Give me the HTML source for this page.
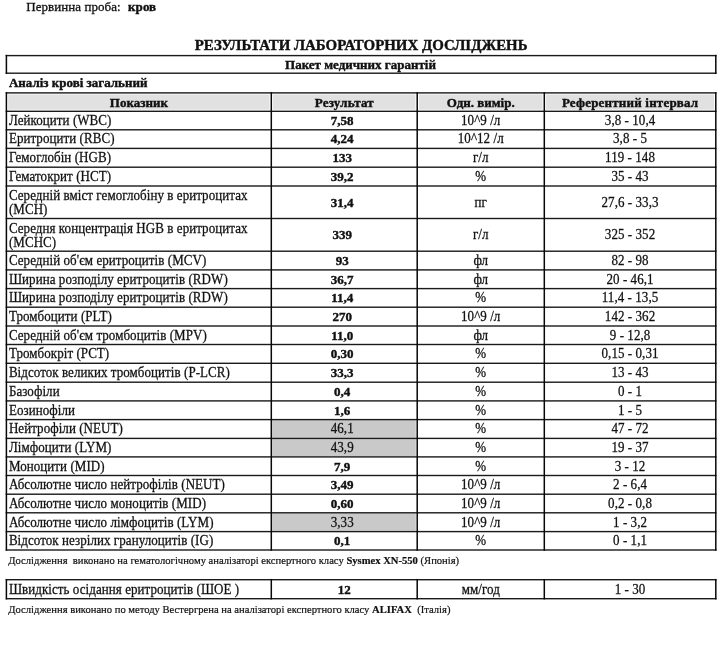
<!DOCTYPE html>
<html><head><meta charset="utf-8"><style>
html,body{margin:0;padding:0;background:#fff;}
body{will-change:transform;}
body{width:720px;height:653px;position:relative;overflow:hidden;font-family:"Liberation Serif",serif;color:#111;}
.t{position:absolute;white-space:nowrap;-webkit-text-stroke:0.25px #111;}
svg{position:absolute;left:0;top:0;}
</style></head><body>
<svg width="720" height="653" viewBox="0 0 720 653">
<rect x="8.20" y="94.50" width="261.30" height="15.15" fill="#e1e1e1"/>
<rect x="273.10" y="94.50" width="142.30" height="15.15" fill="#e1e1e1"/>
<rect x="419.00" y="94.50" width="123.50" height="15.15" fill="#e1e1e1"/>
<rect x="546.10" y="94.50" width="167.90" height="15.15" fill="#e1e1e1"/>
<rect x="272.20" y="420.10" width="143.60" height="17.50" fill="#c9c9c9"/>
<rect x="272.20" y="438.90" width="143.60" height="17.20" fill="#c9c9c9"/>
<rect x="272.20" y="513.30" width="143.60" height="17.50" fill="#c9c9c9"/>
<rect x="5.70" y="54.90" width="710.80" height="1.40" fill="#1a1a1a"/>
<rect x="5.70" y="72.50" width="710.80" height="1.40" fill="#1a1a1a"/>
<rect x="5.65" y="54.85" width="1.50" height="19.10" fill="#080808"/>
<rect x="715.05" y="54.85" width="1.50" height="19.10" fill="#080808"/>
<rect x="5.70" y="92.20" width="710.80" height="1.40" fill="#1a1a1a"/>
<rect x="5.70" y="110.60" width="710.80" height="1.40" fill="#1a1a1a"/>
<rect x="5.70" y="129.10" width="710.80" height="1.40" fill="#1a1a1a"/>
<rect x="5.70" y="147.70" width="710.80" height="1.40" fill="#1a1a1a"/>
<rect x="5.70" y="166.50" width="710.80" height="1.40" fill="#1a1a1a"/>
<rect x="5.70" y="185.30" width="710.80" height="1.40" fill="#1a1a1a"/>
<rect x="5.70" y="217.80" width="710.80" height="1.40" fill="#1a1a1a"/>
<rect x="5.70" y="250.50" width="710.80" height="1.40" fill="#1a1a1a"/>
<rect x="5.70" y="269.20" width="710.80" height="1.40" fill="#1a1a1a"/>
<rect x="5.70" y="287.90" width="710.80" height="1.40" fill="#1a1a1a"/>
<rect x="5.70" y="306.50" width="710.80" height="1.40" fill="#1a1a1a"/>
<rect x="5.70" y="325.30" width="710.80" height="1.40" fill="#1a1a1a"/>
<rect x="5.70" y="343.80" width="710.80" height="1.40" fill="#1a1a1a"/>
<rect x="5.70" y="362.60" width="710.80" height="1.40" fill="#1a1a1a"/>
<rect x="5.70" y="381.50" width="710.80" height="1.40" fill="#1a1a1a"/>
<rect x="5.70" y="400.20" width="710.80" height="1.40" fill="#1a1a1a"/>
<rect x="5.70" y="418.90" width="710.80" height="1.40" fill="#1a1a1a"/>
<rect x="5.70" y="437.70" width="710.80" height="1.40" fill="#1a1a1a"/>
<rect x="5.70" y="456.20" width="710.80" height="1.40" fill="#1a1a1a"/>
<rect x="5.70" y="474.80" width="710.80" height="1.40" fill="#1a1a1a"/>
<rect x="5.70" y="493.50" width="710.80" height="1.40" fill="#1a1a1a"/>
<rect x="5.70" y="512.10" width="710.80" height="1.40" fill="#1a1a1a"/>
<rect x="5.70" y="530.90" width="710.80" height="1.40" fill="#1a1a1a"/>
<rect x="5.70" y="549.30" width="710.80" height="1.40" fill="#1a1a1a"/>
<rect x="5.65" y="92.15" width="1.50" height="458.60" fill="#080808"/>
<rect x="270.55" y="92.15" width="1.50" height="458.60" fill="#080808"/>
<rect x="416.45" y="92.15" width="1.50" height="458.60" fill="#080808"/>
<rect x="543.55" y="92.15" width="1.50" height="458.60" fill="#080808"/>
<rect x="715.05" y="92.15" width="1.50" height="458.60" fill="#080808"/>
<rect x="5.70" y="579.00" width="710.80" height="1.40" fill="#1a1a1a"/>
<rect x="5.70" y="598.00" width="710.80" height="1.40" fill="#1a1a1a"/>
<rect x="5.65" y="578.95" width="1.50" height="20.50" fill="#080808"/>
<rect x="270.55" y="578.95" width="1.50" height="20.50" fill="#080808"/>
<rect x="416.45" y="578.95" width="1.50" height="20.50" fill="#080808"/>
<rect x="543.55" y="578.95" width="1.50" height="20.50" fill="#080808"/>
<rect x="715.05" y="578.95" width="1.50" height="20.50" fill="#080808"/>
</svg>
<div class="t" style="left:26.20px;top:0.00px;font-size:13px;line-height:13px;letter-spacing:0.06px;-webkit-text-stroke:0.3px #111;">Первинна проба:&nbsp; <b style="margin-left:0.7px;-webkit-text-stroke:0.4px #111">кров</b></div>
<div class="t" style="left:6.40px;top:38.40px;font-size:14.9px;line-height:14.9px;font-weight:bold;-webkit-text-stroke:0.4px #111;width:709.40px;text-align:center;">РЕЗУЛЬТАТИ ЛАБОРАТОРНИХ ДОСЛІДЖЕНЬ</div>
<div class="t" style="left:5.80px;top:58.00px;font-size:13px;line-height:13px;font-weight:bold;-webkit-text-stroke:0.4px #111;width:709.40px;text-align:center;">Пакет медичних гарантій</div>
<div class="t" style="left:8.90px;top:75.80px;font-size:13px;line-height:13px;font-weight:bold;-webkit-text-stroke:0.4px #111;">Аналіз крові загальний</div>
<div class="t" style="left:6.40px;top:95.50px;font-size:13px;line-height:13px;font-weight:bold;-webkit-text-stroke:0.4px #111;width:264.90px;text-align:center;">Показник</div>
<div class="t" style="left:271.40px;top:95.50px;font-size:13px;line-height:13px;font-weight:bold;-webkit-text-stroke:0.4px #111;width:145.90px;text-align:center;letter-spacing:0.2px;">Результат</div>
<div class="t" style="left:417.20px;top:95.50px;font-size:13px;line-height:13px;font-weight:bold;-webkit-text-stroke:0.4px #111;width:127.10px;text-align:center;">Одн. вимір.</div>
<div class="t" style="left:544.40px;top:95.50px;font-size:13px;line-height:13px;font-weight:bold;-webkit-text-stroke:0.4px #111;width:171.50px;text-align:center;letter-spacing:0.2px;">Референтний інтервал</div>
<div class="t" style="left:8.90px;top:113.85px;font-size:13px;line-height:13px;transform:scaleY(1.04);transform-origin:0 11px;letter-spacing:0.06px;">Лейкоцити (WBC)</div>
<div class="t" style="left:269.30px;top:113.85px;font-size:13px;line-height:13px;font-weight:bold;-webkit-text-stroke:0.4px #111;width:145.90px;text-align:center;">7,58</div>
<div class="t" style="left:417.20px;top:113.85px;font-size:13px;line-height:13px;transform:scaleY(1.04);transform-origin:0 11px;letter-spacing:0.06px;width:127.10px;text-align:center;">10^9 /л</div>
<div class="t" style="left:544.30px;top:113.85px;font-size:13px;line-height:13px;transform:scaleY(1.04);transform-origin:0 11px;letter-spacing:0.06px;width:171.50px;text-align:center;">3,8 - 10,4</div>
<div class="t" style="left:8.90px;top:132.40px;font-size:13px;line-height:13px;transform:scaleY(1.04);transform-origin:0 11px;letter-spacing:0.06px;">Еритроцити (RBC)</div>
<div class="t" style="left:269.30px;top:132.40px;font-size:13px;line-height:13px;font-weight:bold;-webkit-text-stroke:0.4px #111;width:145.90px;text-align:center;">4,24</div>
<div class="t" style="left:417.20px;top:132.40px;font-size:13px;line-height:13px;transform:scaleY(1.04);transform-origin:0 11px;letter-spacing:0.06px;width:127.10px;text-align:center;">10^12 /л</div>
<div class="t" style="left:544.30px;top:132.40px;font-size:13px;line-height:13px;transform:scaleY(1.04);transform-origin:0 11px;letter-spacing:0.06px;width:171.50px;text-align:center;">3,8 - 5</div>
<div class="t" style="left:8.90px;top:151.10px;font-size:13px;line-height:13px;transform:scaleY(1.04);transform-origin:0 11px;letter-spacing:0.06px;">Гемоглобін (HGB)</div>
<div class="t" style="left:269.30px;top:151.10px;font-size:13px;line-height:13px;font-weight:bold;-webkit-text-stroke:0.4px #111;width:145.90px;text-align:center;">133</div>
<div class="t" style="left:417.20px;top:151.10px;font-size:13px;line-height:13px;transform:scaleY(1.04);transform-origin:0 11px;letter-spacing:0.06px;width:127.10px;text-align:center;">г/л</div>
<div class="t" style="left:544.30px;top:151.10px;font-size:13px;line-height:13px;transform:scaleY(1.04);transform-origin:0 11px;letter-spacing:0.06px;width:171.50px;text-align:center;">119 - 148</div>
<div class="t" style="left:8.90px;top:169.90px;font-size:13px;line-height:13px;transform:scaleY(1.04);transform-origin:0 11px;letter-spacing:0.06px;">Гематокрит (HCT)</div>
<div class="t" style="left:269.30px;top:169.90px;font-size:13px;line-height:13px;font-weight:bold;-webkit-text-stroke:0.4px #111;width:145.90px;text-align:center;">39,2</div>
<div class="t" style="left:417.20px;top:169.90px;font-size:13px;line-height:13px;transform:scaleY(1.04);transform-origin:0 11px;letter-spacing:0.06px;width:127.10px;text-align:center;">%</div>
<div class="t" style="left:544.30px;top:169.90px;font-size:13px;line-height:13px;transform:scaleY(1.04);transform-origin:0 11px;letter-spacing:0.06px;width:171.50px;text-align:center;">35 - 43</div>
<div class="t" style="left:8.90px;top:189.35px;font-size:13px;line-height:13px;transform:scaleY(1.04);transform-origin:0 11px;letter-spacing:0.06px;">Середній вміст гемоглобіну в еритроцитах</div>
<div class="t" style="left:8.90px;top:203.15px;font-size:13px;line-height:13px;transform:scaleY(1.04);transform-origin:0 11px;letter-spacing:0.06px;">(MCH)</div>
<div class="t" style="left:269.30px;top:195.55px;font-size:13px;line-height:13px;font-weight:bold;-webkit-text-stroke:0.4px #111;width:145.90px;text-align:center;">31,4</div>
<div class="t" style="left:417.20px;top:195.55px;font-size:13px;line-height:13px;transform:scaleY(1.04);transform-origin:0 11px;letter-spacing:0.06px;width:127.10px;text-align:center;">пг</div>
<div class="t" style="left:544.30px;top:195.55px;font-size:13px;line-height:13px;transform:scaleY(1.04);transform-origin:0 11px;letter-spacing:0.06px;width:171.50px;text-align:center;">27,6 - 33,3</div>
<div class="t" style="left:8.90px;top:221.95px;font-size:13px;line-height:13px;transform:scaleY(1.04);transform-origin:0 11px;letter-spacing:0.06px;">Середня концентрація HGB в еритроцитах</div>
<div class="t" style="left:8.90px;top:235.75px;font-size:13px;line-height:13px;transform:scaleY(1.04);transform-origin:0 11px;letter-spacing:0.06px;">(MCHC)</div>
<div class="t" style="left:269.30px;top:228.15px;font-size:13px;line-height:13px;font-weight:bold;-webkit-text-stroke:0.4px #111;width:145.90px;text-align:center;">339</div>
<div class="t" style="left:417.20px;top:228.15px;font-size:13px;line-height:13px;transform:scaleY(1.04);transform-origin:0 11px;letter-spacing:0.06px;width:127.10px;text-align:center;">г/л</div>
<div class="t" style="left:544.30px;top:228.15px;font-size:13px;line-height:13px;transform:scaleY(1.04);transform-origin:0 11px;letter-spacing:0.06px;width:171.50px;text-align:center;">325 - 352</div>
<div class="t" style="left:8.90px;top:253.85px;font-size:13px;line-height:13px;transform:scaleY(1.04);transform-origin:0 11px;letter-spacing:0.06px;">Середній об'єм еритроцитів (MCV)</div>
<div class="t" style="left:269.30px;top:253.85px;font-size:13px;line-height:13px;font-weight:bold;-webkit-text-stroke:0.4px #111;width:145.90px;text-align:center;">93</div>
<div class="t" style="left:417.20px;top:253.85px;font-size:13px;line-height:13px;transform:scaleY(1.04);transform-origin:0 11px;letter-spacing:0.06px;width:127.10px;text-align:center;">фл</div>
<div class="t" style="left:544.30px;top:253.85px;font-size:13px;line-height:13px;transform:scaleY(1.04);transform-origin:0 11px;letter-spacing:0.06px;width:171.50px;text-align:center;">82 - 98</div>
<div class="t" style="left:8.90px;top:272.55px;font-size:13px;line-height:13px;transform:scaleY(1.04);transform-origin:0 11px;letter-spacing:0.06px;">Ширина розподілу еритроцитів (RDW)</div>
<div class="t" style="left:269.30px;top:272.55px;font-size:13px;line-height:13px;font-weight:bold;-webkit-text-stroke:0.4px #111;width:145.90px;text-align:center;">36,7</div>
<div class="t" style="left:417.20px;top:272.55px;font-size:13px;line-height:13px;transform:scaleY(1.04);transform-origin:0 11px;letter-spacing:0.06px;width:127.10px;text-align:center;">фл</div>
<div class="t" style="left:544.30px;top:272.55px;font-size:13px;line-height:13px;transform:scaleY(1.04);transform-origin:0 11px;letter-spacing:0.06px;width:171.50px;text-align:center;">20 - 46,1</div>
<div class="t" style="left:8.90px;top:291.20px;font-size:13px;line-height:13px;transform:scaleY(1.04);transform-origin:0 11px;letter-spacing:0.06px;">Ширина розподілу еритроцитів (RDW)</div>
<div class="t" style="left:269.30px;top:291.20px;font-size:13px;line-height:13px;font-weight:bold;-webkit-text-stroke:0.4px #111;width:145.90px;text-align:center;">11,4</div>
<div class="t" style="left:417.20px;top:291.20px;font-size:13px;line-height:13px;transform:scaleY(1.04);transform-origin:0 11px;letter-spacing:0.06px;width:127.10px;text-align:center;">%</div>
<div class="t" style="left:544.30px;top:291.20px;font-size:13px;line-height:13px;transform:scaleY(1.04);transform-origin:0 11px;letter-spacing:0.06px;width:171.50px;text-align:center;">11,4 - 13,5</div>
<div class="t" style="left:8.90px;top:309.90px;font-size:13px;line-height:13px;transform:scaleY(1.04);transform-origin:0 11px;letter-spacing:0.06px;">Тромбоцити (PLT)</div>
<div class="t" style="left:269.30px;top:309.90px;font-size:13px;line-height:13px;font-weight:bold;-webkit-text-stroke:0.4px #111;width:145.90px;text-align:center;">270</div>
<div class="t" style="left:417.20px;top:309.90px;font-size:13px;line-height:13px;transform:scaleY(1.04);transform-origin:0 11px;letter-spacing:0.06px;width:127.10px;text-align:center;">10^9 /л</div>
<div class="t" style="left:544.30px;top:309.90px;font-size:13px;line-height:13px;transform:scaleY(1.04);transform-origin:0 11px;letter-spacing:0.06px;width:171.50px;text-align:center;">142 - 362</div>
<div class="t" style="left:8.90px;top:328.55px;font-size:13px;line-height:13px;transform:scaleY(1.04);transform-origin:0 11px;letter-spacing:0.06px;">Середній об'єм тромбоцитів (MPV)</div>
<div class="t" style="left:269.30px;top:328.55px;font-size:13px;line-height:13px;font-weight:bold;-webkit-text-stroke:0.4px #111;width:145.90px;text-align:center;">11,0</div>
<div class="t" style="left:417.20px;top:328.55px;font-size:13px;line-height:13px;transform:scaleY(1.04);transform-origin:0 11px;letter-spacing:0.06px;width:127.10px;text-align:center;">фл</div>
<div class="t" style="left:544.30px;top:328.55px;font-size:13px;line-height:13px;transform:scaleY(1.04);transform-origin:0 11px;letter-spacing:0.06px;width:171.50px;text-align:center;">9 - 12,8</div>
<div class="t" style="left:8.90px;top:347.20px;font-size:13px;line-height:13px;transform:scaleY(1.04);transform-origin:0 11px;letter-spacing:0.06px;">Тромбокріт (PCT)</div>
<div class="t" style="left:269.30px;top:347.20px;font-size:13px;line-height:13px;font-weight:bold;-webkit-text-stroke:0.4px #111;width:145.90px;text-align:center;">0,30</div>
<div class="t" style="left:417.20px;top:347.20px;font-size:13px;line-height:13px;transform:scaleY(1.04);transform-origin:0 11px;letter-spacing:0.06px;width:127.10px;text-align:center;">%</div>
<div class="t" style="left:544.30px;top:347.20px;font-size:13px;line-height:13px;transform:scaleY(1.04);transform-origin:0 11px;letter-spacing:0.06px;width:171.50px;text-align:center;">0,15 - 0,31</div>
<div class="t" style="left:8.90px;top:366.05px;font-size:13px;line-height:13px;transform:scaleY(1.04);transform-origin:0 11px;letter-spacing:0.06px;">Відсоток великих тромбоцитів (P-LCR)</div>
<div class="t" style="left:269.30px;top:366.05px;font-size:13px;line-height:13px;font-weight:bold;-webkit-text-stroke:0.4px #111;width:145.90px;text-align:center;">33,3</div>
<div class="t" style="left:417.20px;top:366.05px;font-size:13px;line-height:13px;transform:scaleY(1.04);transform-origin:0 11px;letter-spacing:0.06px;width:127.10px;text-align:center;">%</div>
<div class="t" style="left:544.30px;top:366.05px;font-size:13px;line-height:13px;transform:scaleY(1.04);transform-origin:0 11px;letter-spacing:0.06px;width:171.50px;text-align:center;">13 - 43</div>
<div class="t" style="left:8.90px;top:384.85px;font-size:13px;line-height:13px;transform:scaleY(1.04);transform-origin:0 11px;letter-spacing:0.06px;">Базофіли</div>
<div class="t" style="left:269.30px;top:384.85px;font-size:13px;line-height:13px;font-weight:bold;-webkit-text-stroke:0.4px #111;width:145.90px;text-align:center;">0,4</div>
<div class="t" style="left:417.20px;top:384.85px;font-size:13px;line-height:13px;transform:scaleY(1.04);transform-origin:0 11px;letter-spacing:0.06px;width:127.10px;text-align:center;">%</div>
<div class="t" style="left:544.30px;top:384.85px;font-size:13px;line-height:13px;transform:scaleY(1.04);transform-origin:0 11px;letter-spacing:0.06px;width:171.50px;text-align:center;">0 - 1</div>
<div class="t" style="left:8.90px;top:403.55px;font-size:13px;line-height:13px;transform:scaleY(1.04);transform-origin:0 11px;letter-spacing:0.06px;">Еозинофіли</div>
<div class="t" style="left:269.30px;top:403.55px;font-size:13px;line-height:13px;font-weight:bold;-webkit-text-stroke:0.4px #111;width:145.90px;text-align:center;">1,6</div>
<div class="t" style="left:417.20px;top:403.55px;font-size:13px;line-height:13px;transform:scaleY(1.04);transform-origin:0 11px;letter-spacing:0.06px;width:127.10px;text-align:center;">%</div>
<div class="t" style="left:544.30px;top:403.55px;font-size:13px;line-height:13px;transform:scaleY(1.04);transform-origin:0 11px;letter-spacing:0.06px;width:171.50px;text-align:center;">1 - 5</div>
<div class="t" style="left:8.90px;top:422.30px;font-size:13px;line-height:13px;transform:scaleY(1.04);transform-origin:0 11px;letter-spacing:0.06px;">Нейтрофіли (NEUT)</div>
<div class="t" style="left:269.30px;top:422.30px;font-size:13px;line-height:13px;transform:scaleY(1.04);transform-origin:0 11px;letter-spacing:0.06px;width:145.90px;text-align:center;">46,1</div>
<div class="t" style="left:417.20px;top:422.30px;font-size:13px;line-height:13px;transform:scaleY(1.04);transform-origin:0 11px;letter-spacing:0.06px;width:127.10px;text-align:center;">%</div>
<div class="t" style="left:544.30px;top:422.30px;font-size:13px;line-height:13px;transform:scaleY(1.04);transform-origin:0 11px;letter-spacing:0.06px;width:171.50px;text-align:center;">47 - 72</div>
<div class="t" style="left:8.90px;top:440.95px;font-size:13px;line-height:13px;transform:scaleY(1.04);transform-origin:0 11px;letter-spacing:0.06px;">Лімфоцити (LYM)</div>
<div class="t" style="left:269.30px;top:440.95px;font-size:13px;line-height:13px;transform:scaleY(1.04);transform-origin:0 11px;letter-spacing:0.06px;width:145.90px;text-align:center;">43,9</div>
<div class="t" style="left:417.20px;top:440.95px;font-size:13px;line-height:13px;transform:scaleY(1.04);transform-origin:0 11px;letter-spacing:0.06px;width:127.10px;text-align:center;">%</div>
<div class="t" style="left:544.30px;top:440.95px;font-size:13px;line-height:13px;transform:scaleY(1.04);transform-origin:0 11px;letter-spacing:0.06px;width:171.50px;text-align:center;">19 - 37</div>
<div class="t" style="left:8.90px;top:459.50px;font-size:13px;line-height:13px;transform:scaleY(1.04);transform-origin:0 11px;letter-spacing:0.06px;">Моноцити (MID)</div>
<div class="t" style="left:269.30px;top:459.50px;font-size:13px;line-height:13px;font-weight:bold;-webkit-text-stroke:0.4px #111;width:145.90px;text-align:center;">7,9</div>
<div class="t" style="left:417.20px;top:459.50px;font-size:13px;line-height:13px;transform:scaleY(1.04);transform-origin:0 11px;letter-spacing:0.06px;width:127.10px;text-align:center;">%</div>
<div class="t" style="left:544.30px;top:459.50px;font-size:13px;line-height:13px;transform:scaleY(1.04);transform-origin:0 11px;letter-spacing:0.06px;width:171.50px;text-align:center;">3 - 12</div>
<div class="t" style="left:8.90px;top:478.15px;font-size:13px;line-height:13px;transform:scaleY(1.04);transform-origin:0 11px;letter-spacing:0.06px;">Абсолютне число нейтрофілів (NEUT)</div>
<div class="t" style="left:269.30px;top:478.15px;font-size:13px;line-height:13px;font-weight:bold;-webkit-text-stroke:0.4px #111;width:145.90px;text-align:center;">3,49</div>
<div class="t" style="left:417.20px;top:478.15px;font-size:13px;line-height:13px;transform:scaleY(1.04);transform-origin:0 11px;letter-spacing:0.06px;width:127.10px;text-align:center;">10^9 /л</div>
<div class="t" style="left:544.30px;top:478.15px;font-size:13px;line-height:13px;transform:scaleY(1.04);transform-origin:0 11px;letter-spacing:0.06px;width:171.50px;text-align:center;">2 - 6,4</div>
<div class="t" style="left:8.90px;top:496.80px;font-size:13px;line-height:13px;transform:scaleY(1.04);transform-origin:0 11px;letter-spacing:0.06px;">Абсолютне число моноцитів (MID)</div>
<div class="t" style="left:269.30px;top:496.80px;font-size:13px;line-height:13px;font-weight:bold;-webkit-text-stroke:0.4px #111;width:145.90px;text-align:center;">0,60</div>
<div class="t" style="left:417.20px;top:496.80px;font-size:13px;line-height:13px;transform:scaleY(1.04);transform-origin:0 11px;letter-spacing:0.06px;width:127.10px;text-align:center;">10^9 /л</div>
<div class="t" style="left:544.30px;top:496.80px;font-size:13px;line-height:13px;transform:scaleY(1.04);transform-origin:0 11px;letter-spacing:0.06px;width:171.50px;text-align:center;">0,2 - 0,8</div>
<div class="t" style="left:8.90px;top:515.50px;font-size:13px;line-height:13px;transform:scaleY(1.04);transform-origin:0 11px;letter-spacing:0.06px;">Абсолютне число лімфоцитів (LYM)</div>
<div class="t" style="left:269.30px;top:515.50px;font-size:13px;line-height:13px;transform:scaleY(1.04);transform-origin:0 11px;letter-spacing:0.06px;width:145.90px;text-align:center;">3,33</div>
<div class="t" style="left:417.20px;top:515.50px;font-size:13px;line-height:13px;transform:scaleY(1.04);transform-origin:0 11px;letter-spacing:0.06px;width:127.10px;text-align:center;">10^9 /л</div>
<div class="t" style="left:544.30px;top:515.50px;font-size:13px;line-height:13px;transform:scaleY(1.04);transform-origin:0 11px;letter-spacing:0.06px;width:171.50px;text-align:center;">1 - 3,2</div>
<div class="t" style="left:8.90px;top:534.10px;font-size:13px;line-height:13px;transform:scaleY(1.04);transform-origin:0 11px;letter-spacing:0.06px;">Відсоток незрілих гранулоцитів (IG)</div>
<div class="t" style="left:269.30px;top:534.10px;font-size:13px;line-height:13px;font-weight:bold;-webkit-text-stroke:0.4px #111;width:145.90px;text-align:center;">0,1</div>
<div class="t" style="left:417.20px;top:534.10px;font-size:13px;line-height:13px;transform:scaleY(1.04);transform-origin:0 11px;letter-spacing:0.06px;width:127.10px;text-align:center;">%</div>
<div class="t" style="left:544.30px;top:534.10px;font-size:13px;line-height:13px;transform:scaleY(1.04);transform-origin:0 11px;letter-spacing:0.06px;width:171.50px;text-align:center;">0 - 1,1</div>
<div class="t" style="left:8.30px;top:556.40px;font-size:10.6px;line-height:10.6px;transform:scaleY(1.04);transform-origin:0 8px;-webkit-text-stroke:0.2px #111;">Дослідження&nbsp; виконано на гематологічному аналізаторі експертного класу <b>Sysmex XN-550</b> (Японія)</div>
<div class="t" style="left:8.90px;top:582.70px;font-size:13px;line-height:13px;transform:scaleY(1.04);transform-origin:0 11px;letter-spacing:0.06px;">Швидкість осідання еритроцитів (ШОЕ )</div>
<div class="t" style="left:271.30px;top:582.70px;font-size:13px;line-height:13px;font-weight:bold;-webkit-text-stroke:0.4px #111;width:145.90px;text-align:center;">12</div>
<div class="t" style="left:417.20px;top:582.70px;font-size:13px;line-height:13px;transform:scaleY(1.04);transform-origin:0 11px;letter-spacing:0.06px;width:127.10px;text-align:center;">мм/год</div>
<div class="t" style="left:544.30px;top:582.70px;font-size:13px;line-height:13px;transform:scaleY(1.04);transform-origin:0 11px;letter-spacing:0.06px;width:171.50px;text-align:center;">1 - 30</div>
<div class="t" style="left:8.30px;top:605.00px;font-size:10.6px;line-height:10.6px;transform:scaleY(1.04);transform-origin:0 8px;-webkit-text-stroke:0.2px #111;">Дослідження виконано по методу Вестергрена на аналізаторі експертного класу <b>ALIFAX</b>&nbsp; (Італія)</div>
</body></html>
